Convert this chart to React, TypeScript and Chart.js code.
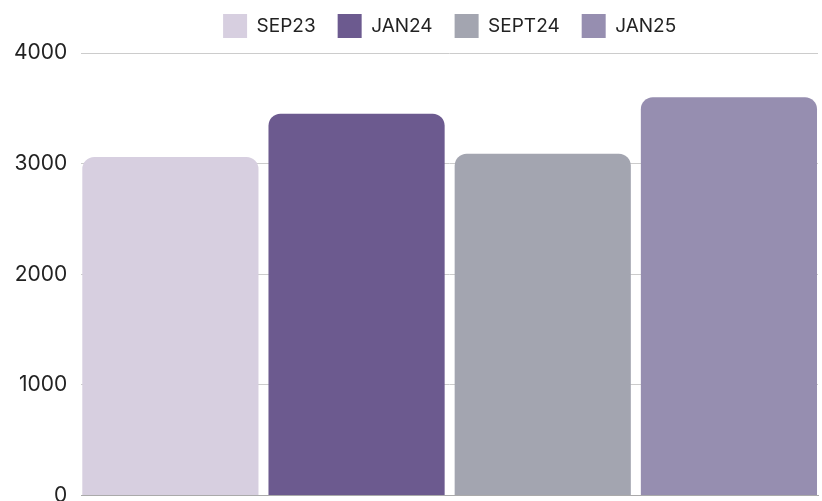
import React, { useEffect, useRef } from "react";
import { Chart, registerables } from "chart.js";

Chart.register(...registerables);

const categories = [""];
const seriesNames = ["SEP23", "JAN24", "SEPT24", "JAN25"];
const seriesValues = [3060, 3450, 3090, 3600];
const seriesColors = ["#D7CFE0", "#6C5A8F", "#A3A5B0", "#968EB0"];
const yTicks = [0, 1000, 2000, 3000, 4000];

const FONT = "Inter, 'Noto Sans', sans-serif";

export default function App() {
  const ref = useRef<HTMLCanvasElement | null>(null);

  useEffect(() => {
    const canvas = ref.current;
    if (!canvas) return;
    const chart = new Chart(canvas, {
      type: "bar",
      data: {
        labels: categories,
        datasets: seriesNames.map((name, i) => ({
          label: name,
          data: [seriesValues[i]],
          backgroundColor: seriesColors[i],
          borderWidth: 0,
          borderRadius: 12,
          borderSkipped: "start",
          barPercentage: 176 / 186,
          categoryPercentage: 1.0109,
        })),
      },
      options: {
        animation: false,
        responsive: false,
        layout: { padding: { top: -8, right: 4, left: 0, bottom: 0 } },
        plugins: {
          legend: {
            position: "top",
            fullSize: false,
            labels: {
              boxWidth: 24,
              boxHeight: 24,
              padding: 22,
              color: "#222",
              font: { family: FONT, size: 19 },
            },
          },
          subtitle: {
            display: true,
            text: "",
            position: "top",
            weight: 500,
            padding: 0,
            font: { size: 4, lineHeight: 1.25 },
          } as any,
          tooltip: { enabled: false },
        },
        scales: {
          x: {
            ticks: { display: false },
            grid: { display: false },
            border: { display: true, color: "#aaaaaa", width: 1 },
          },
          y: {
            min: yTicks[0],
            max: yTicks[yTicks.length - 1],
            afterBuildTicks: (axis: any) => {
              axis.ticks = yTicks.map((v) => ({ value: v }));
            },
            ticks: {
              color: "#222",
              padding: 14,
              font: { family: FONT, size: 21 },
              callback: (v: any) => String(v),
            },
            grid: { color: "#cccccc", drawTicks: false },
            border: { display: false },
          },
        },
      },
    });
    return () => chart.destroy();
  }, []);

  return (
    <div
      style={{
        position: "absolute",
        left: 0,
        top: 0,
        width: 822,
        height: 501,
        overflow: "hidden",
        background: "#fff",
      }}
    >
      <canvas ref={ref} width={822} height={522} style={{ display: "block" }} />
    </div>
  );
}
